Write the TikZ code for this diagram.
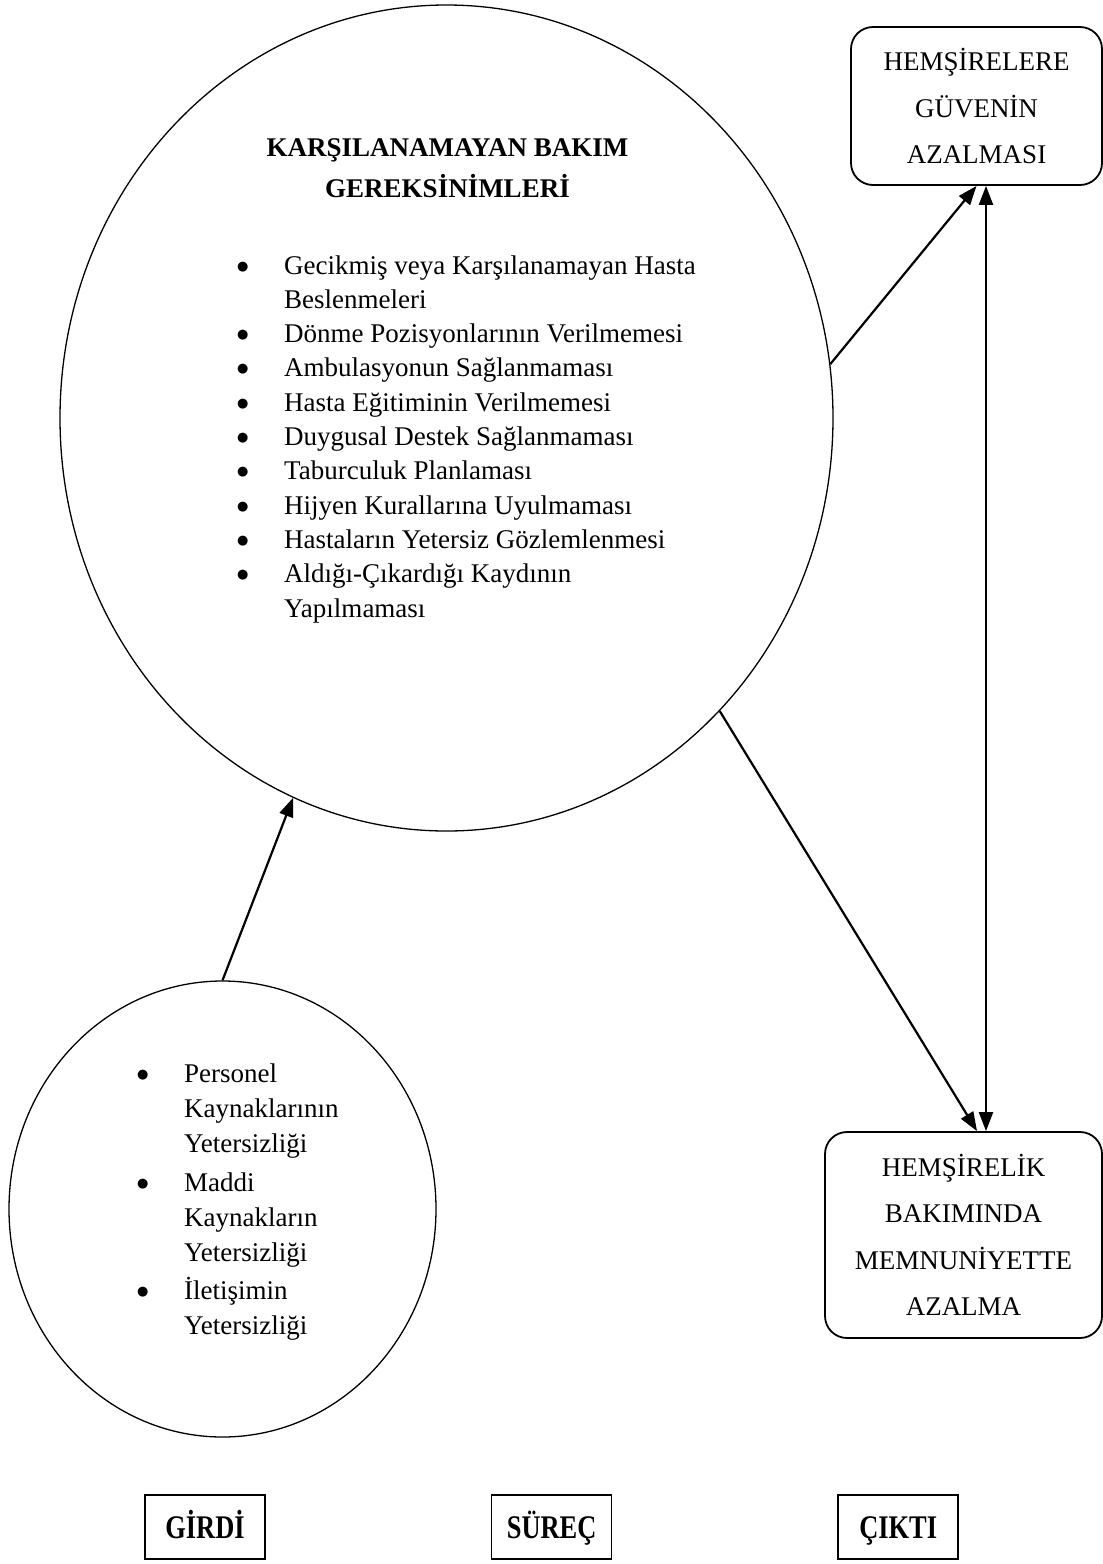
\documentclass[tikz,border=0pt]{standalone}
\usepackage{fontspec}
\setmainfont{Liberation Serif}
\newfontfamily\dotfont{DejaVu Sans}
\usepackage{tikz}
\usetikzlibrary{positioning}
\usetikzlibrary{shapes.geometric, arrows.meta}
\newcommand{\blt}{\raisebox{4pt}{\dotfont\fontsize{13}{13}\selectfont ●}}
\newcommand{\narrow}[1]{\scalebox{0.8}[1]{#1}}

\begin{document}
\begin{tikzpicture}[x=1pt,y=1pt,>={Triangle[length=19pt,width=14pt]},node distance=225pt,
    bubble/.style = {draw, ellipse, line width=1.3pt, inner sep=0pt},
    outbox/.style = {draw, rounded corners=22pt, line width=1.8pt, align=center, font=\fontsize{27}{46.5}\selectfont},
    tag/.style = {draw, line width=1.6pt, minimum width=120pt, minimum height=64pt, text height=22pt, text depth=0pt, font=\bfseries\fontsize{33}{36}\selectfont},
    flow/.style = {->, line width=2.2pt}]
        \useasboundingbox (0,0) rectangle (1103,-1564);
        \node[bubble, minimum width=773pt, minimum height=826pt] (big) at (446.5,-418) {};
        \node[bubble, minimum width=427pt, minimum height=456pt] (small) at (222.5,-1209) {};
        \node[anchor=base, inner sep=0pt, font=\bfseries\fontsize{27}{41}\selectfont] (title) at (447.5,-156)
            {\begin{tabular}[t]{@{}c@{}}KARŞILANAMAYAN BAKIM\\GEREKSİNİMLERİ\end{tabular}};
        \node[anchor=base west, inner sep=0pt, font=\fontsize{27}{34.3}\selectfont] (needs) at (237,-274)
            {\begin{tabular}[t]{@{}p{47pt}@{}l@{}}
            \blt & Gecikmiş veya Karşılanamayan Hasta\\
                 & Beslenmeleri\\
            \blt & Dönme Pozisyonlarının Verilmemesi\\
            \blt & Ambulasyonun Sağlanmaması\\
            \blt & Hasta Eğitiminin Verilmemesi\\
            \blt & Duygusal Destek Sağlanmaması\\
            \blt & Taburculuk Planlaması\\
            \blt & Hijyen Kurallarına Uyulmaması\\
            \blt & Hastaların Yetersiz Gözlemlenmesi\\
            \blt & Aldığı-Çıkardığı Kaydının\\
                 & Yapılmaması
            \end{tabular}};
        \node[anchor=base west, inner sep=0pt, font=\fontsize{27}{35}\selectfont] (inputs) at (137,-1082)
            {\begin{tabular}[t]{@{}p{47pt}@{}l@{}}
            \blt & Personel\\
                 & Kaynaklarının\\
                 & Yetersizliği\\[4pt]
            \blt & Maddi\\
                 & Kaynakların\\
                 & Yetersizliği\\[3pt]
            \blt & İletişimin\\
                 & Yetersizliği
            \end{tabular}};
        \node[outbox, minimum width=251pt, minimum height=158pt] (trust) at (976.5,-106) {HEMŞİRELERE\\GÜVENİN\\AZALMASI};
        \node[outbox, minimum width=277pt, minimum height=206pt] (satis) at (963.5,-1235) {HEMŞİRELİK\\BAKIMINDA\\MEMNUNİYETTE\\AZALMA};
        \node[tag] (girdi) at (205,-1527) {\narrow{GİRDİ}};
        \node[tag, right=of girdi] (surec) {\narrow{SÜREÇ}};
        \node[tag, right=of surec] (cikti) {\narrow{ÇIKTI}};
        \coordinate (v) at ([xshift=9.5pt]trust.south);
        \draw[flow] (small.north) -- (big.248);
        \draw[flow] (big.8) -- (trust.south);
        \draw[flow] (big.313) -- ([xshift=13.5pt]satis.north);
        \draw[flow, <->] (v) -- (v |- satis.north);
\end{tikzpicture}
\end{document}
